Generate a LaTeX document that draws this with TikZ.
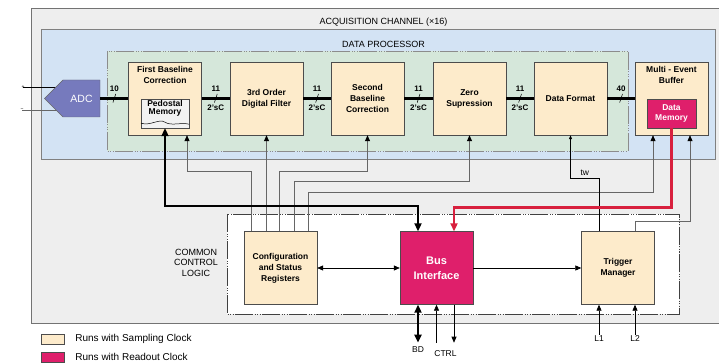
\documentclass[tikz,border=0pt]{standalone}
\usepackage{fontspec}
\setmainfont{Liberation Sans}
\usetikzlibrary{positioning, arrows.meta, calc}
\definecolor{panelgray}{HTML}{EEEEEE}
\definecolor{panelblue}{HTML}{D3E3F4}
\definecolor{panelgreen}{HTML}{D5E7DA}
\definecolor{cream}{HTML}{FDEBCB}
\definecolor{roclk}{HTML}{DF1F6B}
\definecolor{rdline}{HTML}{D8203E}
\definecolor{adcblue}{HTML}{767ABD}
\tikzset{
  blk/.style={draw=black!70, fill=cream, minimum width=73pt, minimum height=73pt, inner sep=0pt,
    font=\fontsize{8.5}{11}\selectfont\bfseries, align=center},
  rblk/.style={blk, fill=roclk, text=white},
  txt/.style={font=\fontsize{8.5}{11}\selectfont\bfseries, align=center, inner sep=1pt},
  lab/.style={font=\fontsize{8.5}{10}\selectfont, align=center, inner sep=1pt},
  blab/.style={font=\fontsize{8}{9}\selectfont\bfseries, inner sep=0.5pt},
  keybox/.style={draw=black!70, minimum width=23pt, minimum height=10pt, inner sep=0pt},
  arr/.style={-{Triangle[length=6pt,width=5pt]}, line width=0.7pt, draw=black},
  ctl/.style={-{Triangle[length=6pt,width=5pt,color=black]}, line width=0.7pt, draw=black!60},
  bus/.style={line width=2.4pt, draw=black},
  barr/.style={{Triangle[length=8pt,width=7pt]}-{Triangle[length=8pt,width=7pt]}, line width=2.4pt, draw=black},
  rarr/.style={-{Triangle[length=8pt,width=7pt]}, line width=2.8pt, draw=rdline},
  wmark/.style={inner sep=0pt, minimum width=3pt, minimum height=9pt,
    path picture={\draw[line width=0.6pt] (path picture bounding box.south west) -- (path picture bounding box.north east);}},
  region/.style={dash pattern=on 18pt off 1.5pt on 1pt off 1.5pt on 1pt off 1.5pt on 1pt off 1.5pt}
}

\begin{document}
\begin{tikzpicture}[x=1pt, y=-1pt]
\useasboundingbox (0,0) rectangle (719,363);
\fill[white] (0,0) rectangle (719,363);

\draw[draw=black!55, fill=panelgray, line width=0.8pt] (31,8) rectangle (730,323);
\node[lab, font=\fontsize{9}{10}\selectfont] (acqt) at (383.5,22.5) {ACQUISITION CHANNEL (×16)};
\draw[draw=black!50, fill=panelblue, line width=0.7pt] (41,29) rectangle (715,159);
\node[lab, font=\fontsize{9}{10}\selectfont] (dprt) at (383.5,44.5) {DATA PROCESSOR};
\draw[region, draw=black!45, fill=panelgreen, line width=0.8pt] (107,51) rectangle (628,151);
\draw[region, draw=black!75, fill=white, line width=0.8pt] (227,214) rectangle (679,314);
\node[lab, font=\fontsize{9}{10.5}\selectfont] (cclt) at (196,262.5) {COMMON\\CONTROL\\LOGIC};

\node[lab, font=\tiny] (pin) at (23,87) {+};
\node[lab, font=\tiny] (nin) at (22,110) {−};
\coordinate (adcc) at (81.5,98.5);
\draw[line width=0.5pt] (pin.center) -- (pin -| adcc);
\draw[line width=0.5pt, draw=black!60] (nin.center) -- (nin -| adcc);
\filldraw[draw=black!60, fill=adcblue] (adcc) ++(18.5,-18.5) -- ++(-37,0) -- ++(-18.5,18.5)
  -- ++(18.5,18.5) -- ++(37,0) -- cycle;
\node[text=white, minimum width=37pt, minimum height=37pt, inner sep=0pt,
  font=\fontsize{10.5}{12}\selectfont] (adc) at (adcc) {ADC};

\node[blk] (fbc) at (165,98.5) {};
\node[txt, below=3pt of fbc.north] {First Baseline\\Correction};
\node[draw=black!70, fill=black!5, minimum width=48pt, minimum height=29pt, inner sep=0pt] (pmem) at (165,113.5) {};
\node[txt, font=\fontsize{8.5}{8.5}\selectfont\bfseries, below=0pt of pmem.north] {Pedostal\\Memory};
\draw[line width=0.5pt] ([yshift=5pt]pmem.south west) .. controls +(10,3) and +(-6,-4) .. ([yshift=6pt]pmem.south)
  .. controls +(6,4) and +(-8,-2) .. ([yshift=4pt]pmem.south east);
\node[blk] (dfl) at (266.5,98.5) {3rd Order\\Digital Filter};
\node[blk] (sbc) at (367.5,98.5) {Second\\Baseline\\Correction};
\node[blk] (zsp) at (469.5,98.5) {Zero\\Supression};
\node[blk] (dfm) at (570.5,98.5) {Data Format};
\node[blk] (meb) at (671.5,98.5) {};
\node[txt, below=3pt of meb.north] {Multi - Event\\Buffer};
\node[rblk, minimum width=49pt, minimum height=29pt, font=\fontsize{8.5}{9.5}\selectfont\bfseries] (dmem) at (671.5,113.5) {Data\\Memory};

\node[blk] (csr) at (280.5,268) {Configuration\\and Status\\Registers};
\node[rblk, font=\fontsize{11}{15}\selectfont\bfseries] (bif) at (436.5,268) {Bus\\Interface};
\node[blk] (tmg) at (618,268) {Trigger\\Manager};

\draw[bus] (adc.east) -- (fbc.west) node[midway, wmark] {} node[midway, above=5pt, blab] {10};
\foreach \a/\b in {fbc/dfl, dfl/sbc, sbc/zsp, zsp/dfm}
  \draw[bus] (\a) -- (\b) node[midway, wmark] {} node[midway, above=5pt, blab] {11}
    node[midway, below=5pt, blab] {2'sC};
\draw[bus] (dfm) -- (meb) node[midway, wmark] {} node[midway, above=5pt, blab] {40};

\draw[ctl] ([xshift=8pt]csr.north west) -- ++(0,-60) -| ([xshift=22pt]fbc.south);
\draw[ctl] (dfl.south |- csr.north) -- (dfl.south);
\draw[ctl] ([xshift=36pt]csr.north west) -- ++(0,-60) -| (sbc.south);
\draw[ctl] ([xshift=51pt]csr.north west) -- ++(0,-50) -| (zsp.south);
\draw[ctl] ([xshift=65pt]csr.north west) -- ++(0,-39) -| ([xshift=-18.5pt]meb.south);
\draw[ctl, draw=black, -{Triangle[length=4pt,width=3pt]}] ([xshift=-19pt]tmg.north) -- ++(0,-53) -| (dfm.south)
  node[pos=0.25, above=1pt, lab] {tw};
\draw[ctl] ([xshift=17pt]tmg.north) -- ++(0,-10) -| ([xshift=18.5pt]meb.south);
\draw[barr] (pmem.south) -- ++(0,78) -| ([xshift=-18.5pt]bif.north);
\draw[rarr] (dmem.south) -- ++(0,79) -| ([xshift=17.5pt]bif.north);

\draw[arr, {Triangle[length=6pt,width=5pt]}-{Triangle[length=6pt,width=5pt]}] (csr) -- (bif);
\draw[arr] (bif) -- (tmg);
\draw[barr] ([xshift=-18.5pt]bif.south) -- ++(0,38) node[below=2pt, lab] {BD};
\draw[arr] ($(bif.south)+(0,38)$) -- (bif.south);
\draw[arr] ([xshift=17.5pt]bif.south) -- ++(0,38);
\node[lab] (ctrl) at ($(bif.south)+(9,49)$) {CTRL};
\node[lab] (lone) at ($(tmg.south)+(-19,34)$) {L1};
\draw[arr] (lone.north) -- (lone.north |- tmg.south);
\node[lab] (ltwo) at ($(tmg.south)+(17,34)$) {L2};
\draw[arr] (ltwo.north) -- (ltwo.north |- tmg.south);

\node[keybox, fill=cream] (keys) at (52.5,339) {};
\node[lab, font=\fontsize{10}{12}\selectfont, right=10pt of keys] {Runs with Sampling Clock};
\node[keybox, fill=roclk] (keyr) at (52.5,357) {};
\node[lab, font=\fontsize{10}{12}\selectfont, right=10pt of keyr] {Runs with Readout Clock};
\end{tikzpicture}
\end{document}
